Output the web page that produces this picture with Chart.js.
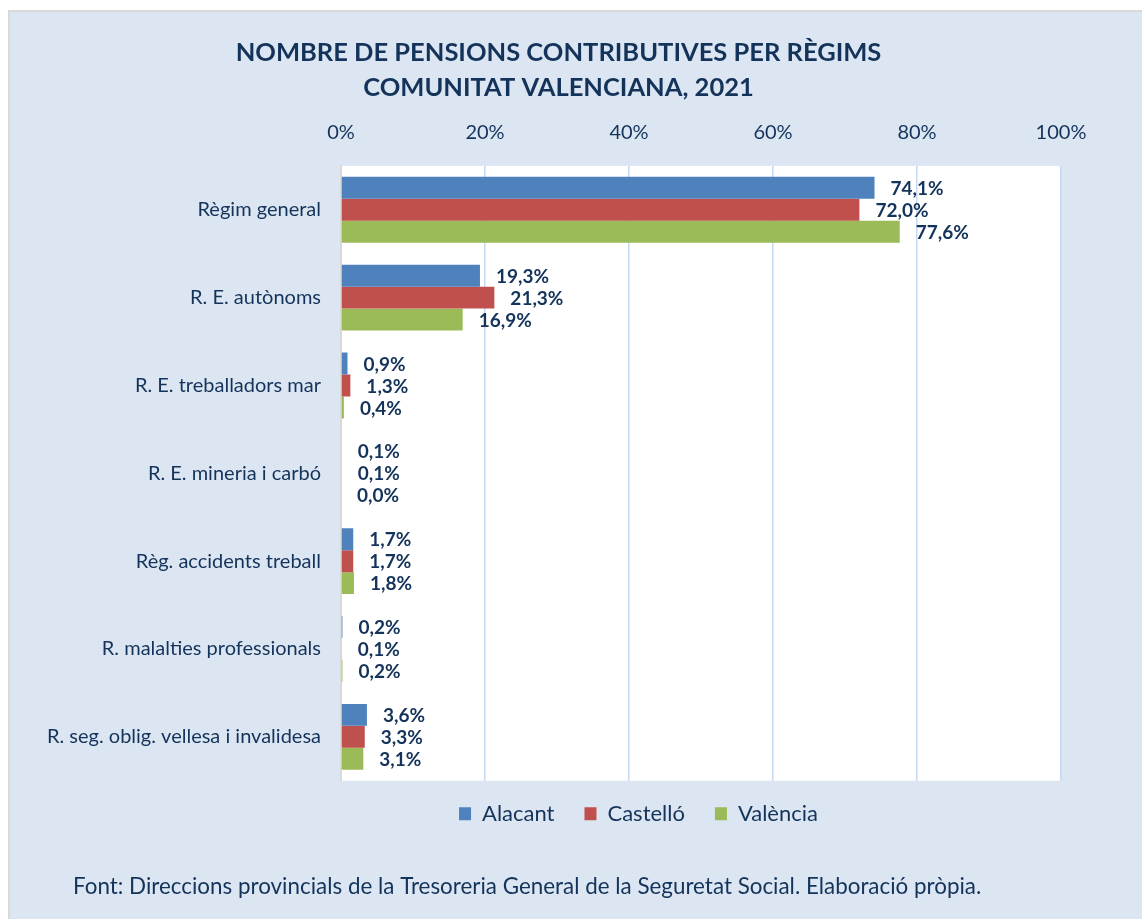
<!DOCTYPE html>
<html>
<head>
<meta charset="utf-8">
<script src="https://cdn.jsdelivr.net/npm/chart.js@4.4.1/dist/chart.umd.min.js"></script>
<style>
  html, body { margin: 0; padding: 0; background: #ffffff; overflow: hidden; }
  #frame {
    position: absolute; left: 8px; top: 10px; width: 1150px; height: 920px;
    background: #dce6f2; border: 2px solid #d9d9d9; box-sizing: border-box;
  }
  #wrap { position: absolute; left: 0; top: 0; width: 1142px; height: 919px; }
</style>
</head>
<body>
<div id="frame"></div>
<div id="wrap"><canvas id="pensionsChart" width="1142" height="919"></canvas></div>
<script>
// chart data
const regims = [
    'Règim general',
    'R. E. autònoms',
    'R. E. treballadors mar',
    'R. E. mineria i carbó',
    'Règ. accidents treball',
    'R. malalties professionals',
    'R. seg. oblig. vellesa i invalidesa'
];
const alacant = [74.1, 19.3, 0.9, 0.1, 1.7, 0.2, 3.6];
const castello = [72.0, 21.3, 1.3, 0.1, 1.7, 0.1, 3.3];
const valencia = [77.6, 16.9, 0.4, 0.0, 1.8, 0.2, 3.1];
const percentTicks = [0, 20, 40, 60, 80, 100];

const navy = '#14335a';
const fontFamily = 'Lato, "Open Sans", sans-serif';
const footerText = 'Font: Direccions provincials de la Tresoreria General de la Seguretat Social. Elaboració pròpia.';

// white plot background
const plotBackground = {
    id: 'plotBackground',
    beforeDraw(chart) {
        const { ctx, chartArea } = chart;
        ctx.save();
        ctx.fillStyle = '#ffffff';
        ctx.fillRect(chartArea.left, chartArea.top, chartArea.right - chartArea.left, chartArea.bottom - chartArea.top);
        ctx.restore();
    }
};

// value labels at the end of each bar
const barLabels = {
    id: 'barLabels',
    afterDatasetsDraw(chart) {
        const ctx = chart.ctx;
        ctx.save();
        ctx.font = 'bold 19px ' + fontFamily;
        ctx.fillStyle = navy;
        ctx.textAlign = 'left';
        ctx.textBaseline = 'middle';
        chart.data.datasets.forEach((ds, i) => {
            chart.getDatasetMeta(i).data.forEach((bar, j) => {
                const txt = ds.data[j].toFixed(1).replace('.', ',') + '%';
                ctx.fillText(txt, bar.x + 16, bar.y + 1);
            });
        });
        ctx.restore();
    }
};

// move title, legend and footer where the original has them
const boxShift = {
    id: 'boxShift',
    afterLayout(chart) {
        const move = (box, dx, dy) => {
            box.left += dx; box.right += dx;
            box.top += dy; box.bottom += dy;
        };
        chart.boxes.forEach(box => {
            if (box === chart.legend) {
                move(box, 108, -8);
            } else if (box === chart.titleBlock) {
                move(box, 28, 0);
            } else if (box.options && box.options.text === footerText) {
                move(box, 73, 0);
            }
        });
    }
};

const chart = new Chart(document.getElementById('pensionsChart').getContext('2d'), {
    type: 'bar',
    data: {
        labels: regims,
        datasets: [
            { label: 'Alacant', data: alacant, backgroundColor: '#4f81bd' },
            { label: 'Castelló', data: castello, backgroundColor: '#c0504d' },
            { label: 'València', data: valencia, backgroundColor: '#9bbb59' }
        ]
    },
    options: {
        indexAxis: 'y',
        responsive: false,
        animation: false,
        categoryPercentage: 0.75,
        barPercentage: 1.0,
        layout: {
            padding: { top: 10, left: 0, right: 81, bottom: 19.2 }
        },
        scales: {
            x: {
                position: 'top',
                min: 0,
                max: 100,
                afterBuildTicks(scale) {
                    scale.ticks = percentTicks.map(v => ({ value: v }));
                },
                afterFit(scale) {
                    scale.height = 60.5;
                },
                ticks: {
                    padding: 21,
                    color: navy,
                    font: { family: fontFamily, size: 20 },
                    callback: v => v + '%'
                },
                grid: {
                    color: '#c6d9f0',
                    lineWidth: 1.5,
                    drawTicks: false
                },
                border: { display: false }
            },
            y: {
                afterFit(scale) {
                    scale.width = 341;
                },
                ticks: {
                    padding: 20,
                    color: navy,
                    font: { family: fontFamily, size: 20 }
                },
                grid: { display: false, drawTicks: false },
                border: { display: true, color: '#d9d9d9', width: 2 }
            }
        },
        plugins: {
            title: {
                display: true,
                text: ['NOMBRE DE PENSIONS CONTRIBUTIVES PER RÈGIMS', 'COMUNITAT VALENCIANA, 2021'],
                color: navy,
                font: { family: fontFamily, size: 25.5, weight: 'bold', lineHeight: 1.37 },
                padding: { top: 25.5, bottom: 0 }
            },
            subtitle: {
                display: true,
                position: 'bottom',
                align: 'start',
                text: footerText,
                color: navy,
                font: { family: fontFamily, size: 22.4, lineHeight: 1.14 },
                padding: { top: 31.5, bottom: 0 }
            },
            legend: {
                position: 'bottom',
                labels: {
                    color: navy,
                    font: { family: fontFamily, size: 22 },
                    boxWidth: 12,
                    boxHeight: 13,
                    padding: 30
                }
            },
            tooltip: { enabled: false }
        }
    },
    plugins: [plotBackground, barLabels, boxShift]
});
</script>
</body>
</html>
